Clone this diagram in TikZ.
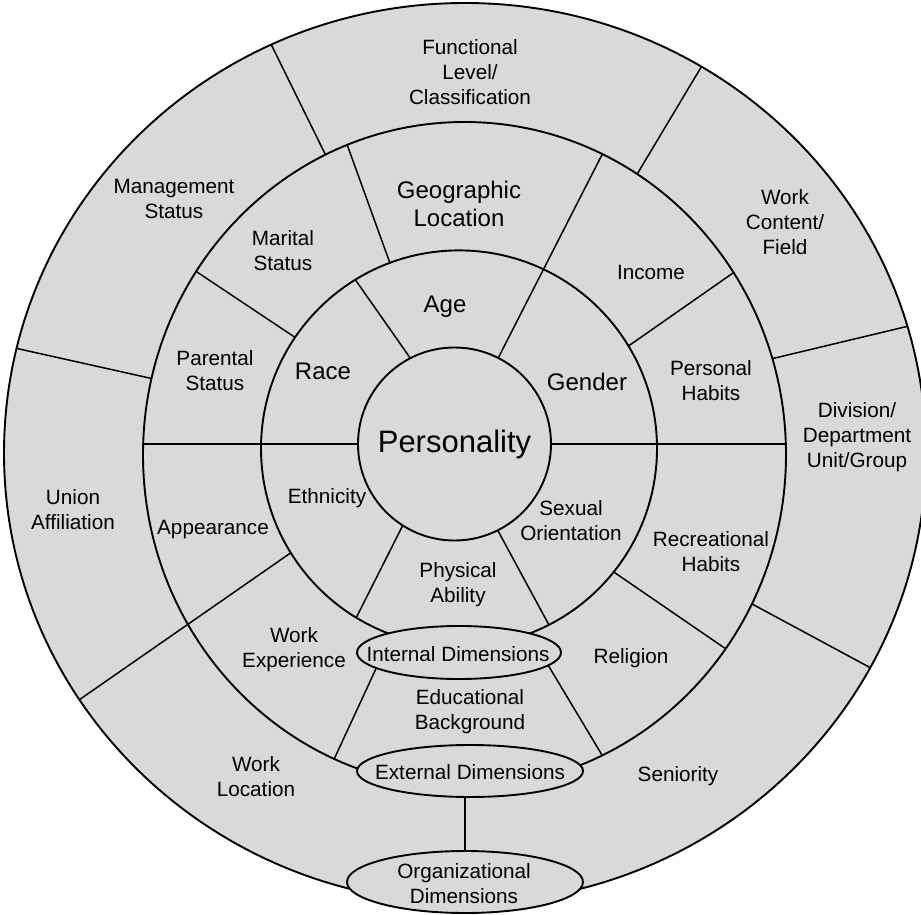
\documentclass[tikz,border=0pt]{standalone}
\usepackage{fontspec}
\setmainfont{Liberation Sans}
\usetikzlibrary{shapes.geometric,calc}
\definecolor{ringgray}{RGB}{217,217,217}
\tikzset{
  lab/.style={font=\fontsize{20.7}{25}\selectfont, align=center, inner sep=0pt},
  biglab/.style={font=\fontsize{24}{28}\selectfont, align=center, inner sep=0pt},
  ringline/.style={line width=1.9pt},
  divline/.style={line width=1.5pt},
  dimbox/.style={ellipse, draw, line width=1.9pt, fill=ringgray, inner sep=0pt},
}
\begin{document}
\begin{tikzpicture}[x=1pt,y=-1pt]
\useasboundingbox (0,0) rectangle (921,915);
\fill[white] (0,0) rectangle (921,915);

% ---------- outer ring ----------
\path[fill=ringgray] (465,453) ellipse [x radius=461pt, y radius=450pt];
\begin{scope}
  \clip (465,453) ellipse [x radius=461pt, y radius=450pt];
  \draw[divline] (268,38) -- (332,168);
  \draw[divline] (706,59) -- (630,186);
  \draw[divline] (918,323.8) -- (760,361.6);
  \draw[divline] (5,345.8) -- (170,382.6);
  \draw[divline] (740,597.5) -- (885,675.6);
  \draw[divline] (65,709.7) -- (300,546.4);
\end{scope}
\draw[ringline] (465,453) ellipse [x radius=461pt, y radius=450pt];

% ---------- middle ring ----------
\path[fill=ringgray] (464.5,454.7) ellipse [x radius=321.5pt, y radius=332.7pt];
\begin{scope}
  \clip (464.5,454.7) ellipse [x radius=321.5pt, y radius=332.7pt];
  \draw[divline] (340,125) -- (395,277);
  \draw[divline] (608,143) -- (490,374);
  \draw[divline] (185,264) -- (305,344);
  \draw[divline] (745,264.6) -- (615,355.4);
  \draw[divline] (130,444) -- (800,444);
  \draw[divline] (65,709.7) -- (300,546.4);
  \draw[divline] (605,566) -- (740,658.6);
  \draw[divline] (380,660) -- (330,768);
  \draw[divline] (545,660) -- (608,765);
\end{scope}
\draw[ringline] (464.5,454.7) ellipse [x radius=321.5pt, y radius=332.7pt];

% ---------- inner ring ----------
\path[fill=ringgray] (459,448.4) circle [radius=198pt];
\begin{scope}
  \clip (459,448.4) circle [radius=198pt];
  \draw[divline] (345,265) -- (420,372);
  \draw[divline] (608,143) -- (490,374);
  \draw[divline] (130,444) -- (800,444);
  \draw[divline] (410,511) -- (350,630);
  \draw[divline] (490,516) -- (556,638);
\end{scope}
\draw[ringline] (459,448.4) circle [radius=198pt];

% ---------- core ----------
\node[circle, draw, line width=1.9pt, fill=ringgray, minimum size=193pt, inner sep=0pt,
      font=\fontsize{31}{36}\selectfont] (pers) at (454.5,444) {Personality};

% ---------- dimension ellipses ----------
\node[dimbox, minimum width=204pt, minimum height=53pt] (intE) at (459,652.5) {};
\node[dimbox, minimum width=226pt, minimum height=52pt] (extE) at (470,771) {};
\node[dimbox, minimum width=236pt, minimum height=62pt] (orgE) at (465,882) {};
\draw[divline] (extE.south -| orgE.north) -- (orgE.north);

\node[lab] (tint) at (458,654) {Internal Dimensions};
\node[lab] (text) at (470,772) {External Dimensions};
\node[lab] (torg) at (464,884) {Organizational\\Dimensions};

% ---------- outer labels ----------
\node[lab] (tfun) at (470,72) {Functional\\Level/\\Classification};
\node[lab] (tman) at (174,199) {Management\\Status};
\node[lab] (twcf) at (785,222) {Work\\Content/\\Field};
\node[lab] (tdiv) at (857,437) {Division/\\Department\\Unit/Group};
\node[lab] (tuni) at (73,510) {Union\\Affiliation};
\node[lab] (twlo) at (256,777) {Work\\Location};
\node[lab] (tsen) at (678,776) {Seniority};

% ---------- middle labels ----------
\node[biglab] (tgeo) at (459,204) {Geographic\\Location};
\node[lab] (tmar) at (283,251) {Marital\\Status};
\node[lab] (tinc) at (651,272) {Income};
\node[lab] (tpar) at (215,371) {Parental\\Status};
\node[lab] (tphb) at (711,381) {Personal\\Habits};
\node[lab] (tapp) at (213,530) {Appearance};
\node[lab] (trec) at (711,552) {Recreational\\Habits};
\node[lab] (twex) at (294,650) {Work\\Experience};
\node[lab] (trel) at (631,658) {Religion};
\node[lab] (tedu) at (470,712) {Educational\\Background};

% ---------- inner labels ----------
\node[biglab] (tage) at (445,307) {Age};
\node[biglab] (trac) at (323,371) {Race};
\node[biglab] (tgen) at (587,382) {Gender};
\node[lab] (teth) at (327,498) {Ethnicity};
\node[lab] (tsex) at (571,521) {Sexual\\Orientation};
\node[lab] (tphy) at (458,585) {Physical\\Ability};
\end{tikzpicture}
\end{document}
